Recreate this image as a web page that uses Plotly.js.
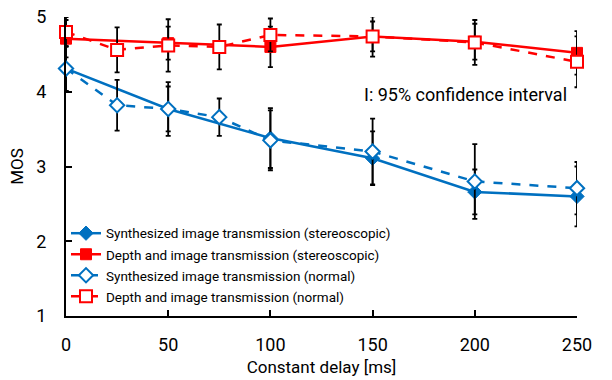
<!DOCTYPE html>
<html>
<head>
<meta charset="utf-8">
<script src="https://cdn.plot.ly/plotly-3.0.1.min.js"></script>
<style>html,body{margin:0;padding:0;background:#fff;}#chart{width:612px;height:380px;}</style>
</head>
<body>
<div id="chart"></div>
<script>
// Data
var delayStereo = [0, 50, 100, 150, 200, 250];
var delayNormal = [0, 25, 50, 75, 100, 150, 200, 250];

var synthStereo = [4.31, 3.77, 3.38, 3.11, 2.66, 2.60];
var synthStereoCI = [0.30, 0.36, 0.40, 0.36, 0.30, 0.40];

var depthStereo = [4.71, 4.65, 4.60, 4.74, 4.67, 4.52];
var depthStereoCI = [0.25, 0.22, 0.27, 0.20, 0.24, 0.29];

var synthNormal = [4.31, 3.82, 3.77, 3.66, 3.35, 3.20, 2.80, 2.71];
var synthNormalCI = [0.30, 0.34, 0.30, 0.25, 0.40, 0.44, 0.50, 0.35];

var depthNormal = [4.80, 4.56, 4.62, 4.60, 4.76, 4.74, 4.66, 4.40];
var depthNormalCI = [0.20, 0.30, 0.35, 0.30, 0.22, 0.27, 0.30, 0.34];

var seriesNames = [
  'Synthesized image transmission (stereoscopic)',
  'Depth and image transmission (stereoscopic)',
  'Synthesized image transmission (normal)',
  'Depth and image transmission (normal)'
];
var xTicks = [0, 50, 100, 150, 200, 250];
var yTicks = [1, 2, 3, 4, 5];

var BLUE = '#0070C0', RED = '#FF0000';
var FONT = 'Roboto, Arial, sans-serif';

function err(arr) {
  return {type: 'data', array: arr, visible: true, color: '#000', thickness: 1.8, width: 2.5};
}

var traces = [
  {x: delayStereo, y: synthStereo, error_y: err(synthStereoCI), name: seriesNames[0], legendgroup: 'a',
   mode: 'lines+markers', line: {color: BLUE, width: 2.5},
   marker: {symbol: 'diamond', size: 11, color: BLUE, line: {color: BLUE, width: 1}}, cliponaxis: false},
  {x: delayStereo, y: depthStereo, error_y: err(depthStereoCI), name: seriesNames[1], legendgroup: 'b',
   mode: 'lines+markers', line: {color: RED, width: 2.5},
   marker: {symbol: 'square', size: 11, color: RED, line: {color: RED, width: 1}}, cliponaxis: false},
  {x: delayNormal, y: synthNormal, error_y: err(synthNormalCI), name: seriesNames[2], legendgroup: 'c',
   mode: 'lines+markers', line: {color: BLUE, width: 2.5, dash: 'dash'},
   marker: {symbol: 'diamond', size: 11, color: '#fff', line: {color: BLUE, width: 2}}, cliponaxis: false},
  {x: delayNormal, y: depthNormal, error_y: err(depthNormalCI), name: seriesNames[3], legendgroup: 'd',
   mode: 'lines+markers', line: {color: RED, width: 2.5, dash: 'dash'},
   marker: {symbol: 'square', size: 12, color: '#fff', line: {color: RED, width: 2}}, cliponaxis: false}
];

var layout = {
  width: 612, height: 380,
  margin: {l: 66, r: 35, t: 17, b: 64},
  paper_bgcolor: '#fff', plot_bgcolor: '#fff',
  font: {family: FONT, color: '#000'},
  showlegend: true,
  legend: {x: 0.0, xanchor: 'left', y: 0.328, yanchor: 'top', bgcolor: 'rgba(0,0,0,0)',
           font: {family: FONT, size: 13.5, color: '#000'}, itemwidth: 30,
           traceorder: 'grouped', tracegroupgap: 0.5},
  xaxis: {range: [0, 250], tickvals: xTicks, ticktext: xTicks.map(String),
          ticks: 'inside', ticklen: 6, tickwidth: 2, tickcolor: '#000',
          showline: true, linecolor: '#000', linewidth: 2, showgrid: false, zeroline: false,
          tickfont: {family: FONT, size: 18}, ticklabelstandoff: 11,
          title: {text: 'Constant delay [ms]', font: {family: FONT, size: 17}, standoff: 8}},
  yaxis: {range: [1, 5], tickvals: yTicks, ticktext: yTicks.map(String),
          ticks: 'inside', ticklen: 6, tickwidth: 2, tickcolor: '#000',
          showline: true, linecolor: '#000', linewidth: 2, showgrid: false, zeroline: false,
          tickfont: {family: FONT, size: 18}, ticklabelstandoff: 14,
          title: {text: 'MOS', font: {family: FONT, size: 17}, standoff: 8}},
  annotations: [{xref: 'paper', yref: 'paper', x: 0.985, y: 0.74, xanchor: 'right', yanchor: 'middle',
                 text: 'I: 95% confidence interval', showarrow: false,
                 font: {family: FONT, size: 18, color: '#000'}}]
};

Plotly.newPlot('chart', traces, layout, {displayModeBar: false, staticPlot: true});
</script>
</body>
</html>
